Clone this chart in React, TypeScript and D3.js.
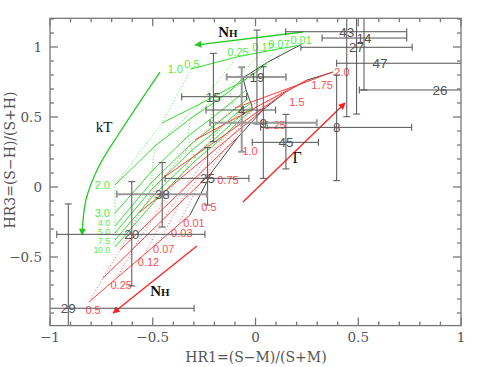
import { useEffect, useRef } from 'react';
import * as d3 from 'd3';

const W = 491;
const H = 367;

// axis tick labels
const xTickLabels = [-1, -0.5, 0, 0.5, 1];
const yTickLabels = [-0.5, 0, 0.5, 1];

// sources: HR1 / HR3 with the ends of their error bars
const srcNames = ['43', '14', '27', '47', '26', '19', '15', '4', '9', '8', '45', '25', '38', '20', '29'];
const srcHR1 = [0.444, 0.528, 0.492, 0.606, 0.898, 0.007, -0.205, -0.067, 0.038, 0.395, 0.148, -0.233, -0.454, -0.602, -0.911];
const srcHR1lo = [0.147, 0.324, 0.221, 0.395, 0.505, -0.14, -0.359, -0.241, -0.221, 0.025, -0.016, -0.44, -0.675, -0.967, -1.2];
const srcHR1hi = [0.736, 0.736, 0.762, 1.2, 1.3, 0.148, -0.043, 0.098, 0.298, 0.76, 0.306, -0.032, -0.237, -0.246, -0.299];
const srcHR3 = [1.109, 1.064, 0.998, 0.884, 0.693, 0.786, 0.645, 0.55, 0.459, 0.426, 0.319, 0.062, -0.052, -0.338, -0.866];
const srcHR3lo = [0.502, 0.693, 0.521, 0.884, 0.693, 0.45, 0.324, 0.252, 0.062, 0.045, 0.129, -0.129, -0.286, -0.707, -1.2];
const srcHR3hi = [1.5, 1.5, 1.5, 0.884, 0.693, 1.121, 0.955, 0.855, 0.859, 0.8, 0.519, 0.281, 0.174, 0.038, -0.121];
// bars drawn in the lighter, heavier grey
const greyHR1 = ['19', '9', '38'];
const greyHR3 = ['4'];

// thermal model grid: rows = kT, columns = NH
const kTValues = [1.0, 1.5, 2.0, 3.0, 4.0, 5.0, 7.5, 10.0];
const kTLabelled = [1.0, 2.0, 3.0, 4.0, 5.0, 7.5, 10.0];
const thermNH = [0.5, 0.25, 0.12, 0.07, 0.03, 0.01];
const thermNHLabelled = [0.5, 0.25, 0.12, 0.07, 0.01];
const thermHR1 = [
  [-0.314, -0.09, 0.032, 0.109, 0.168, 0.217],
  [-0.455, -0.27, -0.144, -0.066, 0.002, 0.061],
  [-0.684, -0.489, -0.319, -0.212, -0.124, -0.061],
  [-0.684, -0.504, -0.328, -0.212, -0.114, -0.046],
  [-0.684, -0.504, -0.319, -0.202, -0.1, -0.032],
  [-0.684, -0.499, -0.309, -0.192, -0.09, -0.022],
  [-0.684, -0.494, -0.299, -0.182, -0.08, -0.017],
  [-0.684, -0.489, -0.294, -0.173, -0.075, -0.017],
];
const thermHR3 = [
  [0.843, 0.929, 0.964, 0.986, 1.0, 1.014],
  [0.457, 0.593, 0.693, 0.75, 0.821, 0.893],
  [0.014, 0.293, 0.486, 0.593, 0.686, 0.779],
  [-0.186, 0.114, 0.364, 0.493, 0.607, 0.693],
  [-0.279, 0.036, 0.3, 0.436, 0.557, 0.636],
  [-0.329, -0.007, 0.264, 0.4, 0.529, 0.6],
  [-0.379, -0.057, 0.221, 0.364, 0.5, 0.571],
  [-0.429, -0.1, 0.186, 0.336, 0.479, 0.55],
];

// power-law grid: rows = NH, columns = photon index
const gammaValues = [0.5, 0.75, 1.0, 1.25, 1.5, 1.75, 2.0];
const plNH = [0.01, 0.03, 0.07, 0.12, 0.25, 0.5];
const plHR1 = [
  [-0.319, -0.212, -0.085, 0.041, 0.148, 0.251, 0.377],
  [-0.378, -0.275, -0.154, -0.031, 0.076, 0.185, 0.32],
  [-0.466, -0.371, -0.257, -0.14, -0.031, 0.087, 0.234],
  [-0.54, -0.451, -0.344, -0.23, -0.121, 0.005, 0.163],
  [-0.673, -0.594, -0.499, -0.393, -0.283, -0.142, 0.034],
  [-0.81, -0.742, -0.659, -0.562, -0.45, -0.294, -0.1],
];
const plHR3 = [
  [-0.2, 0.107, 0.357, 0.557, 0.679, 0.764, 0.821],
  [-0.274, 0.016, 0.26, 0.469, 0.605, 0.713, 0.791],
  [-0.386, -0.12, 0.115, 0.336, 0.494, 0.636, 0.744],
  [-0.48, -0.234, -0.006, 0.226, 0.402, 0.571, 0.706],
  [-0.647, -0.438, -0.224, 0.027, 0.236, 0.456, 0.636],
  [-0.821, -0.65, -0.45, -0.179, 0.064, 0.336, 0.564],
];

// annotation arrows (HR1, HR3)
const kTArrow = [[-0.465, 0.821], [-0.659, 0.393], [-0.766, 0.136], [-0.825, -0.093], [-0.844, -0.343]];
const thermNHArrow = [[0.231, 1.107], [-0.294, 1.014]];
const gammaArrow = [[-0.061, -0.107], [0.436, 0.6]];
const plNHArrow = [[-0.285, -0.421], [-0.693, -0.9]];

const fmt = (v: number) => (v < 0 ? '\u2212' + Math.abs(v) : String(v));
const f1 = (v: number) => v.toFixed(v === 0.25 || v === 0.12 || v === 0.07 || v === 0.03 || v === 0.01 || v === 0.75 || v === 1.25 || v === 1.75 ? 2 : 1);

function App() {
  const svgRef = useRef<SVGSVGElement>(null);

  useEffect(() => {
    const svg = d3.select(svgRef.current);
    svg.selectAll('*').remove();

    const x = d3.scaleLinear().domain([-1, 1]).range([50, 461]);
    const y = d3.scaleLinear().domain([-0.99, 1.205]).range([325.6, 18.3]);
    const [left, right] = x.range();
    const [bottom, top] = y.range();

    const defs = svg.append('defs');
    defs.append('clipPath').attr('id', 'plotclip')
      .append('rect').attr('x', left).attr('y', top).attr('width', right - left).attr('height', bottom - top);
    const marker = (id: string, col: string) => defs.append('marker')
      .attr('id', id).attr('viewBox', '0 0 10 10').attr('refX', 9).attr('refY', 5)
      .attr('markerUnits', 'userSpaceOnUse').attr('markerWidth', 10).attr('markerHeight', 7)
      .attr('orient', 'auto')
      .append('path').attr('d', 'M0,0L10,5L0,10z').attr('fill', col);
    marker('arrG', '#22cc22');
    marker('arrR', '#ff2020');

    svg.append('rect').attr('width', W).attr('height', H).attr('fill', '#fff');

    const line = d3.line<number[]>().x(d => x(d[0])).y(d => y(d[1]));
    const plot = svg.append('g').attr('clip-path', 'url(#plotclip)');

    // thermal grid
    thermNH.forEach((nh, j) => {
      const pts = kTValues.map((_, i) => [thermHR1[i][j], thermHR3[i][j]]);
      plot.append('path').attr('d', line(pts)).attr('fill', 'none')
        .attr('stroke', nh === 0.01 ? '#333' : '#66ee66')
        .attr('stroke-width', nh === 0.01 ? 0.9 : 1)
        .attr('stroke-dasharray', nh === 0.01 ? null : '1.2,2');
    });
    kTValues.forEach((_, i) => {
      const pts = thermNH.map((_, j) => [thermHR1[i][j], thermHR3[i][j]]);
      plot.append('path').attr('d', line(pts)).attr('fill', 'none')
        .attr('stroke', '#33dd33').attr('stroke-width', 1);
    });

    // power-law grid
    plNH.forEach((nh, n) => {
      const pts = gammaValues.map((_, g) => [plHR1[n][g], plHR3[n][g]]);
      plot.append('path').attr('d', line(pts)).attr('fill', 'none')
        .attr('stroke', nh === 0.01 ? '#333' : '#ff7070')
        .attr('stroke-width', nh === 0.01 ? 0.9 : 1)
        .attr('stroke-dasharray', nh === 0.01 ? null : '1.2,2');
    });
    gammaValues.forEach((_, g) => {
      const pts = plNH.map((_, n) => [plHR1[n][g], plHR3[n][g]]);
      plot.append('path').attr('d', line(pts)).attr('fill', 'none')
        .attr('stroke', '#ff4040').attr('stroke-width', 1);
    });

    // grid labels
    const gLab = svg.append('g').attr('font-family', '"Liberation Sans", Arial, sans-serif').attr('font-size', 11);
    const kTNudge = [0, 0, 0, 0, -3, -1, 1, 3];
    kTValues.forEach((kt, i) => {
      if (!kTLabelled.includes(kt)) return;
      gLab.append('text').attr('x', x(thermHR1[i][0]) - (i === 0 ? 8 : 5)).attr('y', y(thermHR3[i][0]) + kTNudge[i])
        .attr('dy', '0.35em').attr('text-anchor', 'end').attr('font-size', i > 3 ? 8.5 : 11)
        .attr('fill', '#55ee44').text(kt.toFixed(1));
    });
    thermNH.forEach((nh, j) => {
      if (!thermNHLabelled.includes(nh)) return;
      gLab.append('text').attr('x', x(thermHR1[0][j]) + 1).attr('y', y(thermHR3[0][j]) - 5)
        .attr('dy', '0.35em').attr('text-anchor', 'middle').attr('fill', '#55ee44').text(f1(nh));
    });
    const gammaNudge = [[19, -8], [16, 8], [12, 14], [11, 16], [11, 10], [15, 5], [9, 0]];
    gammaValues.forEach((gm, g) => {
      gLab.append('text').attr('x', x(plHR1[0][g]) + gammaNudge[g][0]).attr('y', y(plHR3[0][g]) + gammaNudge[g][1])
        .attr('dy', '0.35em').attr('text-anchor', 'middle').attr('fill', '#ff5050').text(f1(gm));
    });
    plNH.forEach((nh, n) => {
      gLab.append('text').attr('x', x(plHR1[n][0]) + 4).attr('y', y(plHR3[n][0]) + 8)
        .attr('dy', '0.35em').attr('text-anchor', 'middle').attr('fill', '#ff5050').text(f1(nh));
    });

    // arrows
    const curve = d3.line<number[]>().x(d => x(d[0])).y(d => y(d[1])).curve(d3.curveCatmullRom);
    svg.append('path').attr('d', curve(kTArrow)).attr('fill', 'none').attr('stroke', '#22cc22')
      .attr('stroke-width', 1.3).attr('marker-end', 'url(#arrG)');
    svg.append('path').attr('d', line(thermNHArrow)).attr('fill', 'none').attr('stroke', '#22cc22')
      .attr('stroke-width', 1.3).attr('marker-end', 'url(#arrG)');
    svg.append('path').attr('d', line(gammaArrow)).attr('fill', 'none').attr('stroke', '#ff2020')
      .attr('stroke-width', 1.3).attr('marker-end', 'url(#arrR)');
    svg.append('path').attr('d', line(plNHArrow)).attr('fill', 'none').attr('stroke', '#ff2020')
      .attr('stroke-width', 1.3).attr('marker-end', 'url(#arrR)');

    const serif = '"Liberation Serif", "Times New Roman", serif';
    const nhLabel = (cx: number, cy: number) => {
      const t = svg.append('text').attr('x', x(cx)).attr('y', y(cy)).attr('font-family', serif)
        .attr('font-weight', 'bold').attr('text-anchor', 'middle').attr('fill', '#111');
      t.append('tspan').attr('font-size', 15).text('N');
      t.append('tspan').attr('font-size', 11).text('H');
    };
    nhLabel(-0.134, 1.07);
    nhLabel(-0.465, -0.775);
    svg.append('text').attr('x', x(-0.737)).attr('y', y(0.39)).attr('font-family', serif)
      .attr('font-size', 15).attr('text-anchor', 'middle').attr('fill', '#111').text('kT');
    svg.append('text').attr('x', x(0.202)).attr('y', y(0.175)).attr('font-family', serif)
      .attr('font-size', 16).attr('text-anchor', 'middle').attr('fill', '#111').text('\u0393');

    // error bars
    const bars = svg.append('g').attr('clip-path', 'url(#plotclip)');
    const cap = 3.5;
    srcNames.forEach((name, i) => {
      const cx = x(srcHR1[i]);
      const cy = y(srcHR3[i]);
      const hGrey = greyHR1.includes(name);
      const vGrey = greyHR3.includes(name);
      const hs = hGrey ? '#999' : '#505050';
      const hw = hGrey ? 2 : 1;
      const x0 = x(srcHR1lo[i]);
      const x1 = x(srcHR1hi[i]);
      bars.append('line').attr('x1', x0).attr('x2', x1).attr('y1', cy).attr('y2', cy).attr('stroke', hs).attr('stroke-width', hw);
      [x0, x1].forEach(px => bars.append('line').attr('x1', px).attr('x2', px).attr('y1', cy - cap).attr('y2', cy + cap)
        .attr('stroke', hs).attr('stroke-width', hw));
      if (srcHR3lo[i] !== srcHR3hi[i]) {
        const vs = vGrey ? '#999' : '#505050';
        const vw = vGrey ? 2 : 1;
        const y0 = y(srcHR3lo[i]);
        const y1 = y(srcHR3hi[i]);
        bars.append('line').attr('x1', cx).attr('x2', cx).attr('y1', y0).attr('y2', y1).attr('stroke', vs).attr('stroke-width', vw);
        [y0, y1].forEach(py => bars.append('line').attr('x1', cx - cap).attr('x2', cx + cap).attr('y1', py).attr('y2', py)
          .attr('stroke', vs).attr('stroke-width', vw));
      }
    });
    srcNames.forEach((name, i) => {
      svg.append('text').attr('x', x(srcHR1[i])).attr('y', y(srcHR3[i])).attr('dy', '0.36em')
        .attr('text-anchor', 'middle').attr('font-family', '"Liberation Sans", Arial, sans-serif')
        .attr('font-size', 13.5).attr('fill', '#555').text(name);
    });

    // frame and ticks
    const axisCol = '#777';
    const ax = svg.append('g').attr('stroke', axisCol).attr('stroke-width', 1.3);
    ax.append('rect').attr('x', left).attr('y', top).attr('width', right - left).attr('height', bottom - top).attr('fill', 'none');
    d3.range(-10, 11).forEach(k => {
      const v = k / 10;
      const len = k % 5 === 0 ? 8 : 4;
      ax.append('line').attr('x1', x(v)).attr('x2', x(v)).attr('y1', bottom).attr('y2', bottom - len);
      ax.append('line').attr('x1', x(v)).attr('x2', x(v)).attr('y1', top).attr('y2', top + len);
    });
    d3.range(-9, 13).forEach(k => {
      const v = k / 10;
      const len = k % 5 === 0 ? 8 : 4;
      ax.append('line').attr('y1', y(v)).attr('y2', y(v)).attr('x1', left).attr('x2', left + len);
      ax.append('line').attr('y1', y(v)).attr('y2', y(v)).attr('x1', right).attr('x2', right - len);
    });

    const tickFont = '"DejaVu Serif", serif';
    xTickLabels.forEach(v => {
      svg.append('text').attr('x', x(v)).attr('y', 342).attr('text-anchor', 'middle')
        .attr('font-family', tickFont).attr('font-size', 13.5).attr('fill', '#555').text(fmt(v));
    });
    yTickLabels.forEach(v => {
      svg.append('text').attr('x', 42).attr('y', y(v)).attr('dy', '0.36em').attr('text-anchor', 'end')
        .attr('font-family', tickFont).attr('font-size', 13.5).attr('fill', '#555').text(fmt(v));
    });
    svg.append('text').attr('x', 256).attr('y', 362).attr('text-anchor', 'middle')
      .attr('font-family', tickFont).attr('font-size', 14).attr('fill', '#555').text('HR1=(S\u2212M)/(S+M)');
    svg.append('text').attr('transform', 'translate(15,160) rotate(-90)').attr('text-anchor', 'middle')
      .attr('font-family', tickFont).attr('font-size', 14).attr('fill', '#555').text('HR3=(S\u2212H)/(S+H)');
  }, []);

  return <svg ref={svgRef} width={W} height={H} style={{ position: 'absolute', left: 0, top: 0 }} />;
}

export default App;
